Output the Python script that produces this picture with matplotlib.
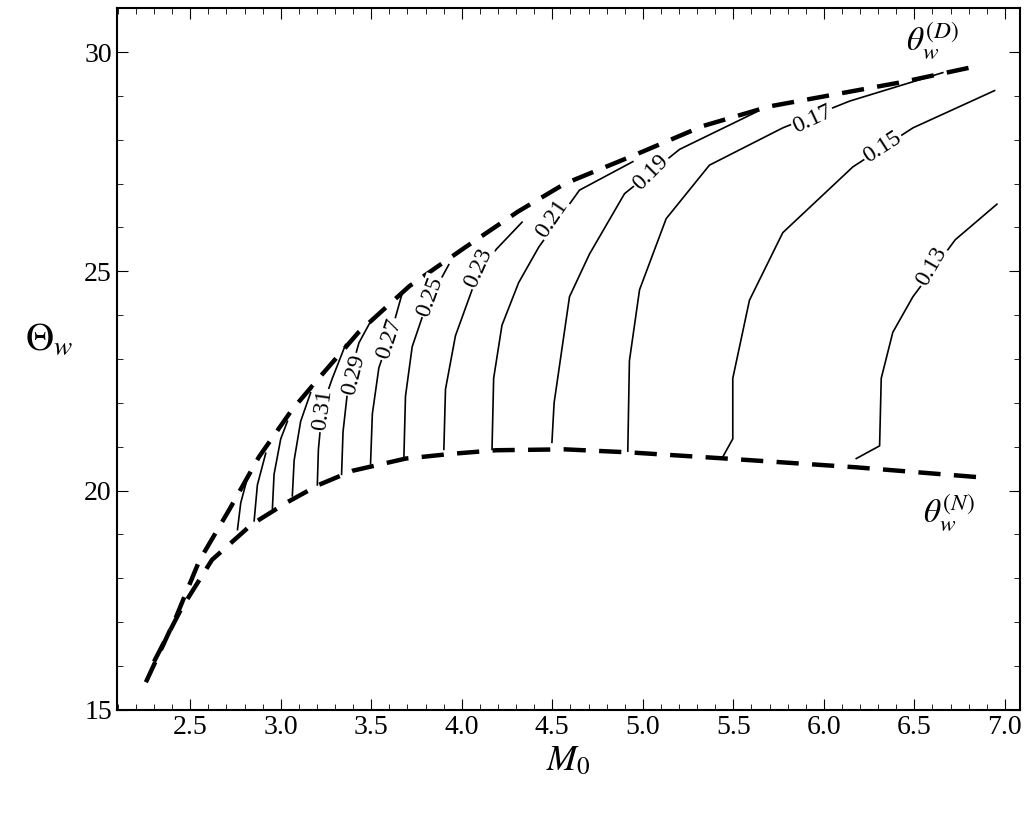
import matplotlib
matplotlib.use("Agg")
import matplotlib.pyplot as plt
from matplotlib.ticker import MultipleLocator

plt.rcParams['font.family'] = ['Liberation Serif', 'DejaVu Serif']
plt.rcParams['mathtext.fontset'] = 'stix'

# detachment (upper) and von Neumann (lower) boundaries
m_det = [2.255, 2.42, 2.55, 2.715, 2.88, 3.06, 3.21, 3.43, 3.71, 4.02, 4.31, 4.57,
         4.96, 5.33, 5.70, 6.07, 6.44, 6.87]
th_det = [15.63, 17.1, 18.4, 19.56, 20.77, 21.83, 22.56, 23.61, 24.66, 25.55, 26.36, 27.0,
          27.66, 28.31, 28.76, 29.04, 29.32, 29.70]
m_neu = [2.3, 2.45, 2.62, 2.84, 3.03, 3.21, 3.395, 3.69, 3.95, 4.19, 4.57, 4.93, 5.46, 6.18, 6.90]
th_neu = [16.1, 17.3, 18.42, 19.23, 19.72, 20.13, 20.45, 20.73, 20.84, 20.92, 20.94, 20.87,
          20.73, 20.53, 20.29]

# contour lines: level -> (M, Theta)
contours = {
    0.39: ([2.761, 2.779, 2.816], [19.11, 19.72, 20.29]),
    0.37: ([2.853, 2.871, 2.917], [19.31, 20.13, 20.85]),
    0.35: ([2.954, 2.963, 3.0, 3.037], [19.60, 20.37, 21.18, 21.58]),
    0.33: ([3.064, 3.074, 3.110, 3.165], [19.88, 20.69, 21.58, 22.23]),
    0.31: ([3.202, 3.208, 3.230, 3.285, 3.358], [20.13, 20.94, 21.91, 22.56, 23.33]),
    0.29: ([3.336, 3.344, 3.377, 3.432, 3.506], [20.37, 21.34, 22.56, 23.37, 23.93]),
    0.27: ([3.496, 3.506, 3.542, 3.616, 3.671], [20.61, 21.75, 22.80, 23.69, 24.50]),
    0.25: ([3.680, 3.689, 3.726, 3.800, 3.928], [20.73, 22.15, 23.28, 24.18, 25.15]),
    0.23: ([3.901, 3.910, 3.965, 4.057, 4.19, 4.333], [20.94, 22.31, 23.53, 24.58, 25.5, 26.12]),
    0.21: ([4.167, 4.176, 4.222, 4.314, 4.425, 4.65, 4.945],
           [20.94, 22.56, 23.77, 24.74, 25.55, 26.85, 27.5]),
    0.19: ([4.498, 4.51, 4.595, 4.705, 4.899, 5.203, 5.626],
           [21.1, 22.0, 24.42, 25.39, 26.77, 27.78, 28.63]),
    0.17: ([4.917, 4.926, 4.982, 5.129, 5.368, 5.773, 6.142, 6.657],
           [20.9, 22.96, 24.58, 26.20, 27.42, 28.27, 28.88, 29.53]),
    0.15: ([5.442, 5.497, 5.497, 5.589, 5.773, 6.16, 6.492, 6.943],
           [20.77, 21.18, 22.56, 24.34, 25.88, 27.38, 28.27, 29.12]),
    0.13: ([6.179, 6.308, 6.317, 6.381, 6.492, 6.726, 6.956],
           [20.73, 21.02, 22.56, 23.61, 24.42, 25.72, 26.53]),
}

# label positions and rotations
labels = {
    0.31: (3.23, 21.83, 82), 0.29: (3.404, 22.64, 76), 0.27: (3.597, 23.45, 72),
    0.25: (3.827, 24.42, 70), 0.23: (4.094, 25.07, 66), 0.21: (4.498, 26.2, 56),
    0.19: (5.046, 27.26, 45), 0.17: (5.939, 28.47, 25), 0.15: (6.326, 27.82, 33),
    0.13: (6.593, 25.11, 60),
}

fig = plt.figure(figsize=(10.24, 8.15), dpi=100)
ax = fig.add_axes([0.114, 0.129, 0.882, 0.861])

for lev, (m, th) in contours.items():
    ax.plot(m, th, color='black', lw=1.2)

for lev, (x, y, rot) in labels.items():
    ax.text(x, y, f"{lev:.2f}", rotation=rot, ha='center', va='center', fontsize=17,
            bbox=dict(facecolor='white', edgecolor='none', pad=1))

ax.plot(m_det, th_det, color='black', lw=3.2, linestyle=(0, (5, 3)))
ax.plot(m_neu, th_neu, color='black', lw=3.2, linestyle=(0, (5, 3)))

ax.text(6.60, 30.25, r"$\theta_w^{(D)}$", fontsize=24, ha='center', va='center')
ax.text(6.69, 19.5, r"$\theta_w^{(N)}$", fontsize=24, ha='center', va='center')

ax.set_xlim(2.094, 7.083)
ax.set_ylim(15, 31)
ax.xaxis.set_major_locator(MultipleLocator(0.5))
ax.xaxis.set_minor_locator(MultipleLocator(0.1))
ax.yaxis.set_major_locator(MultipleLocator(5))
ax.yaxis.set_minor_locator(MultipleLocator(1))
ax.tick_params(which='both', direction='in', top=True, right=True, labelsize=20)
ax.tick_params(which='major', length=8)
ax.tick_params(which='minor', length=4)
ax.set_xticklabels([], minor=True)
ax.xaxis.set_major_formatter(matplotlib.ticker.FormatStrFormatter('%.1f'))
for s in ax.spines.values():
    s.set_linewidth(1.5)

ax.set_xlabel(r"$M_0$", fontsize=26)
ax.set_ylabel(r"$\Theta_w$", fontsize=28, rotation=0, labelpad=25)

fig.savefig("out.png", dpi=100)
